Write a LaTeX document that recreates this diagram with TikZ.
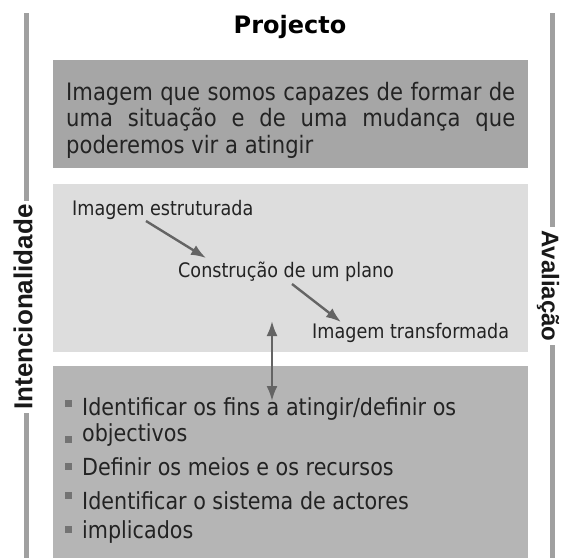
\documentclass[tikz,border=0pt]{standalone}
\usepackage{fontspec}
\setmainfont{DejaVu Sans}[FakeStretch=0.88]
\newfontfamily\titlefont{DejaVu Sans}
\newfontfamily\sidefont{Liberation Sans}
\usetikzlibrary{arrows.meta}
\definecolor{boxdark}{RGB}{166,166,166}
\definecolor{boxlight}{RGB}{221,221,221}
\definecolor{boxmid}{RGB}{181,181,181}
\definecolor{railgray}{RGB}{160,160,160}
\definecolor{inkgray}{RGB}{35,35,35}
\definecolor{arrowgray}{RGB}{100,100,100}
\definecolor{bulletgray}{RGB}{115,115,115}
\begin{document}
\begin{tikzpicture}[x=1pt, y=-1pt,
        rail/.style={railgray, line width=5pt},
        sidelabel/.style={fill=white, inner xsep=3pt, inner ysep=0pt, text=black!90, font=\sidefont\bfseries},
        plaintext/.style={anchor=base west, inner sep=0pt, text=inkgray},
        flowarrow/.style={arrowgray, line width=2.4pt, -{Latex[length=15pt, width=11pt]}},
        bulletsq/.style={fill=bulletgray, minimum size=7pt, inner sep=0pt}]
        \useasboundingbox (0, 0) rectangle (562, 558);
        % the three panels
        \fill[boxdark] (53, 60) rectangle (528, 168);
        \fill[boxlight] (53, 184) rectangle (528, 352);
        \fill[boxmid] (53, 366) rectangle (528, 558);
        % side rails
        \draw[rail] (26.5, 13) -- (26.5, 558);
        \draw[rail] (552.5, 13) -- (552.5, 558);
        \node[sidelabel, rotate=90, font=\sidefont\bfseries\fontsize{26}{26}\selectfont] (intenc) at (23, 307) {Intencionalidade};
        \node[sidelabel, rotate=-90, font=\sidefont\bfseries\fontsize{24}{24}\selectfont] (aval) at (548, 286) {Avaliação};
        % title and top panel
        \node[anchor=base, inner sep=0pt, font=\titlefont\bfseries\fontsize{24}{24}\selectfont] (title) at (290, 33) {Projecto};
        \node[anchor=north west, inner sep=0pt, text width=449pt, align=justify, text=inkgray,
                font=\fontsize{24}{26.5}\selectfont] (imagem) at (66, 82)
                {Imagem que somos capazes de formar de\linebreak uma situação e de uma mudança que\linebreak poderemos vir a atingir};
        % middle panel
        \node[plaintext, font=\fontsize{20}{20}\selectfont] (estrut) at (72, 215) {Imagem estruturada};
        \node[plaintext, font=\fontsize{20}{20}\selectfont] (plano) at (178, 277) {Construção de um plano};
        \node[plaintext, font=\fontsize{20}{20}\selectfont] (transf) at (312, 338) {Imagem transformada};
        \coordinate (estrutend) at (146, 221);
        \coordinate (planotop) at (206, 258);
        \coordinate (planoend) at (292, 284);
        \coordinate (transftop) at (341, 322);
        \draw[flowarrow] (estrutend) -- (planotop);
        \draw[flowarrow] (planoend) -- (transftop);
        \coordinate (linktop) at (272, 321);
        \coordinate (linkbot) at (272, 401);
        \draw[flowarrow, {Latex[length=15pt, width=11pt]}-{Latex[length=15pt, width=11pt]}] (linktop) -- (linkbot);
        % bottom panel
        \foreach \name/\base/\lift/\txt in {fins/415/12/{Identificar os fins a atingir/definir os},
                        objec/441/2/objectivos, meios/475/9/{Definir os meios e os recursos},
                        actor/509/14/{Identificar o sistema de actores}, impl/538/9/implicados} {
                \node[bulletsq] (sq\name) at (68, \base - \lift) {};
                \node[plaintext, font=\fontsize{23.5}{23.5}\selectfont] (\name) at (82, \base) {\txt};
            }
\end{tikzpicture}
\end{document}
